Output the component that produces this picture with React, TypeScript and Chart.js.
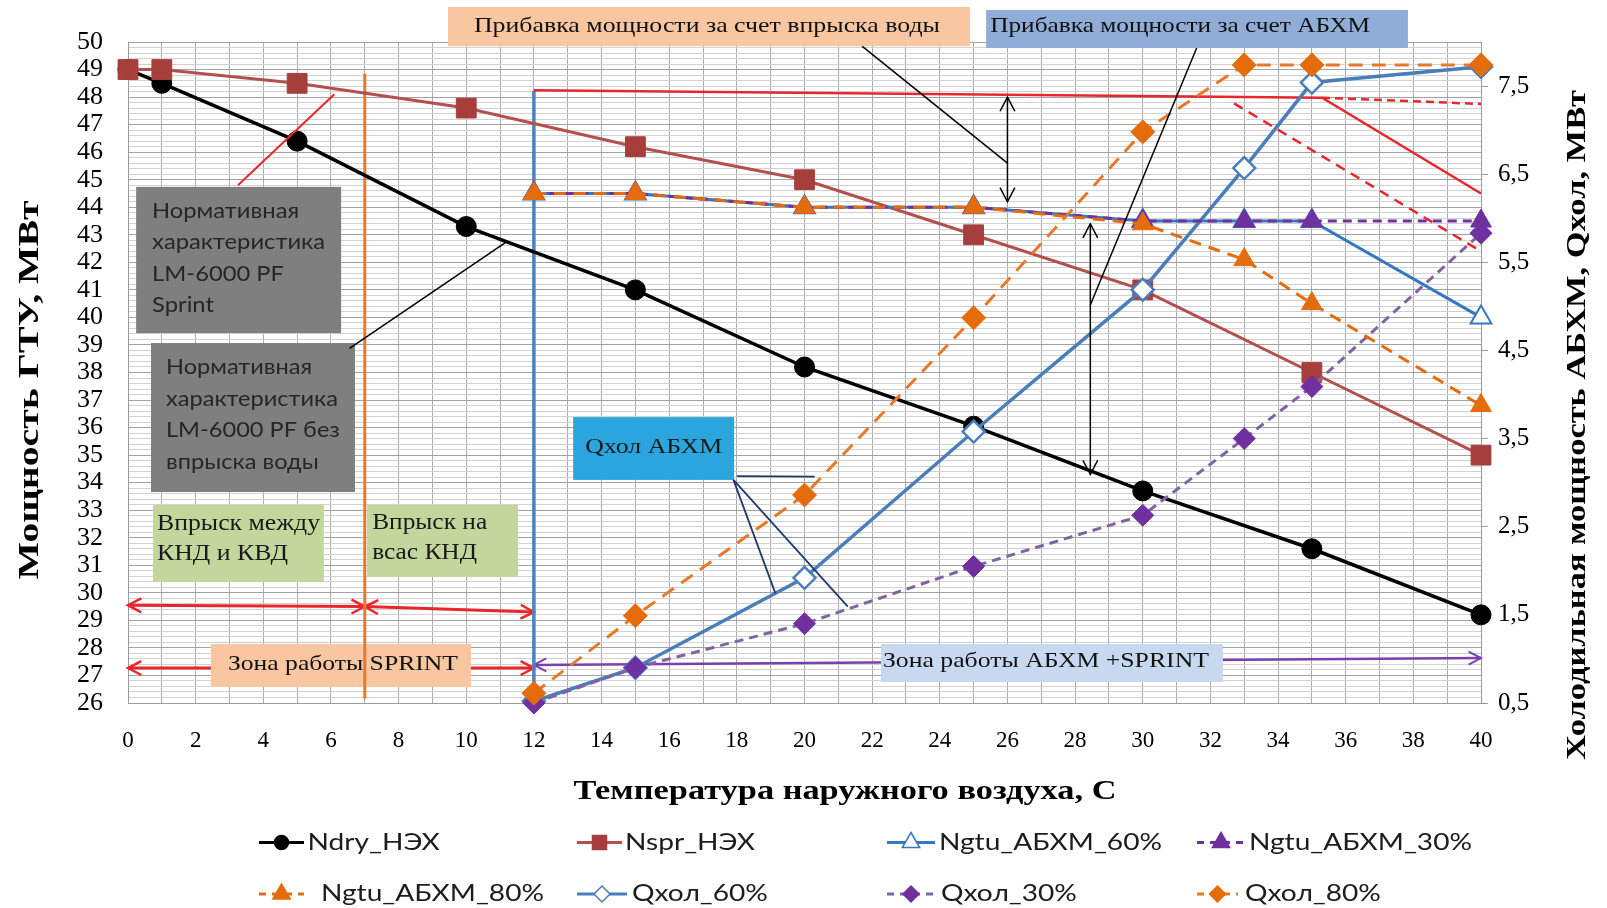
import React, { useEffect, useRef } from "react";
import { Chart, registerables } from "chart.js";

Chart.register(...registerables);

// ---------------- data ----------------
const xBase = [0, 1, 5, 10, 15, 20, 25, 30, 35, 40];
const nDry = [49.0, 48.5, 46.4, 43.3, 41.0, 38.2, 36.05, 33.7, 31.6, 29.2];
const nSpr = [49.0, 49.0, 48.5, 47.6, 46.2, 45.0, 43.0, 41.0, 38.0, 35.0];

const xAbxm = [12, 15, 20, 25, 30, 33, 35, 40];
const nGtu60 = [44.5, 44.5, 44.0, 44.0, 43.5, 43.5, 43.5, 40.0];
const nGtu30 = [44.5, 44.5, 44.0, 44.0, 43.5, 43.5, 43.5, 43.5];
const nGtu80 = [44.5, 44.5, 44.0, 44.0, 43.4, 42.1, 40.5, 36.8];
const qHol60 = [0.52, 0.9, 1.92, 3.58, 5.19, 6.57, 7.54, 7.72];
const qHol30 = [0.5, 0.9, 1.4, 2.05, 2.63, 3.5, 4.09, 5.83];
const qHol80 = [0.61, 1.49, 2.86, 4.87, 6.98, 7.74, 7.74, 7.74];

const xTickLabels = [0, 2, 4, 6, 8, 10, 12, 14, 16, 18, 20, 22, 24, 26, 28, 30, 32, 34, 36, 38, 40];
const leftTickLabels = [26, 27, 28, 29, 30, 31, 32, 33, 34, 35, 36, 37, 38, 39, 40, 41, 42, 43, 44, 45, 46, 47, 48, 49, 50];
const rightTickLabels = [0.5, 1.5, 2.5, 3.5, 4.5, 5.5, 6.5, 7.5];

const seriesNames = [
  "Ndry_НЭХ",
  "Nspr_НЭХ",
  "Ngtu_АБХМ_60%",
  "Ngtu_АБХМ_30%",
  "Ngtu_АБХМ_80%",
  "Qхол_60%",
  "Qхол_30%",
  "Qхол_80%",
];

// grid helpers (not data)
const xGrid = Array.from({ length: 41 }, (_, i) => i);
const yGrid = Array.from({ length: 121 }, (_, i) => Math.round((26 + i * 0.2) * 10) / 10);

const SERIF = '"Liberation Serif", "Times New Roman", serif';
const SANS = 'Lato, "Open Sans", "Liberation Sans", sans-serif';

const C = {
  black: "#000000",
  spr: "#B3504D",
  sprMk: "#A63F3C",
  blue: "#3478BF",
  qblue: "#4A7EBB",
  purple: "#7030A0",
  qpurple: "#8064A2",
  orange: "#E46C0A",
  red: "#E8262C",
  navy: "#1F3A6B",
};

const pts = (xs: number[], ys: number[]) => xs.map((x, i) => ({ x, y: ys[i] }));

function strokeLine(ctx: any, p: number[][], color: string, width: number, dash: number[] = []) {
  ctx.save();
  ctx.strokeStyle = color;
  ctx.lineWidth = width;
  ctx.setLineDash(dash);
  ctx.lineCap = "butt";
  ctx.beginPath();
  p.forEach((q, i) => (i ? ctx.lineTo(q[0], q[1]) : ctx.moveTo(q[0], q[1])));
  ctx.stroke();
  ctx.restore();
}

function arrowHead(ctx: any, tx: number, ty: number, fx: number, fy: number, len: number, color: string, width: number) {
  const a = Math.atan2(ty - fy, tx - fx);
  const s = Math.PI / 6.5;
  ctx.save();
  ctx.strokeStyle = color;
  ctx.lineWidth = width;
  ctx.setLineDash([]);
  ctx.beginPath();
  ctx.moveTo(tx - len * Math.cos(a - s), ty - len * Math.sin(a - s));
  ctx.lineTo(tx, ty);
  ctx.lineTo(tx - len * Math.cos(a + s), ty - len * Math.sin(a + s));
  ctx.stroke();
  ctx.restore();
}

function textFit(ctx: any, s: string, x: number, y: number, font: string, color: string, width: number, align = "left", rot = 0) {
  ctx.save();
  ctx.font = font;
  const w = ctx.measureText(s).width;
  const sx = width ? width / w : 1;
  ctx.translate(x, y);
  if (rot) ctx.rotate(rot);
  ctx.scale(sx, 1);
  ctx.fillStyle = color;
  ctx.textAlign = align;
  ctx.textBaseline = "middle";
  ctx.fillText(s, 0, 0);
  ctx.restore();
}

type Box = {
  x1: number; x2: number; y1: number; y2: number;
  fill: string; lines: string[]; font: string; color: string;
  align: string; pad?: number; dx?: number; dy?: number; lh?: number;
  ref: string; refW: number;
};

const boxesBelow: Box[] = [
  { x1: 2.45, x2: 10.14, y1: 28.14, y2: 26.58, fill: "#F8C6A0", lines: ["Зона работы SPRINT"], font: `22px ${SERIF}`, color: "#111", align: "center", dx: 2, dy: -1, ref: "Зона работы SPRINT", refW: 230 },
  { x1: 22.26, x2: 32.37, y1: 28.14, y2: 26.76, fill: "#C6D9F1", lines: ["Зона работы АБХМ +SPRINT"], font: `22px ${SERIF}`, color: "#111", align: "center", dx: -6, dy: -2, ref: "Зона работы АБХМ +SPRINT", refW: 326 },
];

const boxesAbove: Box[] = [
  { x1: 0.24, x2: 6.3, y1: 44.74, y2: 39.43, fill: "#7F7F7F", lines: ["Нормативная", "характеристика", "LM-6000 PF", "Sprint"], font: `21px ${SANS}`, color: "#262626", align: "left", pad: 16, dy: -2, lh: 31.5, ref: "характеристика", refW: 173 },
  { x1: 0.68, x2: 6.71, y1: 39.07, y2: 33.66, fill: "#7F7F7F", lines: ["Нормативная", "характеристика", "LM-6000 PF без", "впрыска воды"], font: `21px ${SANS}`, color: "#262626", align: "left", pad: 15, dy: -3, lh: 31.5, ref: "характеристика", refW: 172 },
  { x1: 0.74, x2: 5.79, y1: 33.19, y2: 30.39, fill: "#C3D69B", lines: ["Впрыск между", "КНД и КВД"], font: `23px ${SERIF}`, color: "#1a1a1a", align: "left", pad: 4, dy: -5, lh: 30, ref: "Впрыск между", refW: 163 },
  { x1: 7.07, x2: 11.53, y1: 33.19, y2: 30.58, fill: "#C3D69B", lines: ["Впрыск на", "всас КНД"], font: `23px ${SERIF}`, color: "#1a1a1a", align: "left", pad: 5, dy: -3, lh: 30, ref: "Впрыск на", refW: 115 },
  { x1: 13.16, x2: 17.92, y1: 36.38, y2: 34.1, fill: "#2AA5DE", lines: ["Qхол АБХМ"], font: `22px ${SERIF}`, color: "#1a1a1a", align: "center", dy: -1, ref: "Qхол АБХМ", refW: 137 },
];

const boxesTop: Box[] = [
  { x1: 9.46, x2: 24.89, y1: 51.27, y2: 49.85, fill: "#F8C6A0", lines: ["Прибавка мощности за счет впрыска воды"], font: `22px ${SERIF}`, color: "#111", align: "center", dx: -2, dy: 0, ref: "Прибавка мощности за счет впрыска воды", refW: 466 },
  { x1: 25.37, x2: 37.84, y1: 51.16, y2: 49.78, fill: "#8FADD6", lines: ["Прибавка мощности за счет АБХМ"], font: `22px ${SERIF}`, color: "#111", align: "left", pad: 4, dy: -3, ref: "Прибавка мощности за счет АБХМ", refW: 380 },
];

function drawBox(ctx: any, X: (v: number) => number, Y: (v: number) => number, b: Box) {
  const x1 = X(b.x1), x2 = X(b.x2), y1 = Y(b.y1), y2 = Y(b.y2);
  ctx.save();
  ctx.fillStyle = b.fill;
  ctx.fillRect(x1, y1, x2 - x1, y2 - y1);
  ctx.font = b.font;
  const sx = b.refW / ctx.measureText(b.ref).width;
  const n = b.lines.length;
  const cy = (y1 + y2) / 2 + (b.dy || 0);
  b.lines.forEach((s, i) => {
    const ty = cy + (i - (n - 1) / 2) * (b.lh || 0);
    const tx = b.align === "center" ? (x1 + x2) / 2 + (b.dx || 0) : x1 + (b.pad || 0);
    ctx.save();
    ctx.translate(tx, ty);
    ctx.scale(sx, 1);
    ctx.fillStyle = b.color;
    ctx.textAlign = b.align;
    ctx.textBaseline = "middle";
    ctx.fillText(s, 0, 0);
    ctx.restore();
  });
  ctx.restore();
}

function drawMarker(ctx: any, style: string, x: number, y: number, r: number, fill: string, stroke: string, bw: number) {
  ctx.save();
  ctx.beginPath();
  if (style === "circle") ctx.arc(x, y, r, 0, Math.PI * 2);
  else if (style === "rect") ctx.rect(x - r, y - r, 2 * r, 2 * r);
  else if (style === "triangle") {
    ctx.moveTo(x, y - r);
    ctx.lineTo(x + r * 0.87, y + r * 0.5);
    ctx.lineTo(x - r * 0.87, y + r * 0.5);
    ctx.closePath();
  } else {
    ctx.moveTo(x, y - r);
    ctx.lineTo(x + r, y);
    ctx.lineTo(x, y + r);
    ctx.lineTo(x - r, y);
    ctx.closePath();
  }
  ctx.fillStyle = fill;
  ctx.fill();
  ctx.lineWidth = bw;
  ctx.strokeStyle = stroke;
  ctx.stroke();
  ctx.restore();
}

const annotPlugin = {
  id: "annot",
  beforeDatasetsDraw(chart: any) {
    const ctx = chart.ctx;
    const X = (v: number) => chart.scales.x.getPixelForValue(v);
    const Y = (v: number) => chart.scales.y.getPixelForValue(v);
    const P = (x: number, y: number) => [X(x), Y(y)];

    // red zone arrows
    const redRows = [
      [0, 29.55, 7, 29.5],
      [7, 29.5, 12, 29.3],
      [0, 27.27, 12, 27.27],
    ];
    redRows.forEach((r) => {
      const a = P(r[0], r[1]), b = P(r[2], r[3]);
      strokeLine(ctx, [a, b], C.red, 3);
      arrowHead(ctx, a[0], a[1], b[0], b[1], 15, C.red, 2.5);
      arrowHead(ctx, b[0], b[1], a[0], a[1], 15, C.red, 2.5);
    });
    // purple zone arrow
    {
      const a = P(12, 27.38), b = P(40, 27.63);
      strokeLine(ctx, [a, b], "#7B3FB0", 2.5);
      arrowHead(ctx, a[0], a[1], b[0], b[1], 14, "#7B3FB0", 2);
      arrowHead(ctx, b[0], b[1], a[0], a[1], 14, "#7B3FB0", 2);
    }
    boxesBelow.forEach((b) => drawBox(ctx, X, Y, b));

    // vertical zone borders
    strokeLine(ctx, [P(7, 48.85), P(7, 26.15)], "#E8782A", 3);
    strokeLine(ctx, [P(12, 48.23), P(12, 26.0)], "#4F81BD", 3.5);

    boxesAbove.forEach((b) => drawBox(ctx, X, Y, b));

    // red reference lines (upper)
    strokeLine(ctx, [P(12, 48.25), P(35.3, 47.98), P(40, 44.5)], C.red, 2.5);
    strokeLine(ctx, [P(35.3, 47.98), P(40, 47.75)], C.red, 2.5, [8, 5]);
    strokeLine(ctx, [P(32.7, 47.77), P(40, 42.4)], C.red, 2.5, [10, 7]);
  },
  afterDatasetsDraw(chart: any) {
    const ctx = chart.ctx;
    const X = (v: number) => chart.scales.x.getPixelForValue(v);
    const Y = (v: number) => chart.scales.y.getPixelForValue(v);
    const P = (x: number, y: number) => [X(x), Y(y)];

    // black double arrows
    const dbl = [
      [26, 48.0, 26, 44.2],
      [28.45, 43.4, 28.45, 34.3],
    ];
    dbl.forEach((r) => {
      const a = P(r[0], r[1]), b = P(r[2], r[3]);
      strokeLine(ctx, [a, b], "#000", 1.5);
      arrowHead(ctx, a[0], a[1], b[0], b[1], 16, "#000", 1.5);
      arrowHead(ctx, b[0], b[1], a[0], a[1], 16, "#000", 1.5);
    });
    // leader lines
    strokeLine(ctx, [P(21.7, 49.85), P(26, 45.6)], "#000", 1.5);
    strokeLine(ctx, [P(31.6, 49.8), P(28.45, 40.45)], "#000", 1.5);
    strokeLine(ctx, [P(6.55, 38.88), P(11.2, 42.75)], "#000", 1.5);
    strokeLine(ctx, [P(3.25, 44.8), P(6.1, 48.1)], C.red, 2);
    strokeLine(ctx, [P(18.0, 34.24), P(20.3, 34.22)], C.navy, 1.8);
    strokeLine(ctx, [P(17.9, 34.1), P(19.14, 29.98)], C.navy, 1.8);
    strokeLine(ctx, [P(17.9, 34.1), P(21.28, 29.5)], C.navy, 1.8);

    boxesTop.forEach((b) => drawBox(ctx, X, Y, b));
  },
  afterDraw(chart: any) {
    const ctx = chart.ctx;
    // axis titles
    textFit(ctx, "Температура наружного воздуха, С", 845, 792, `bold 28px ${SERIF}`, "#000", 543, "center");
    textFit(ctx, "Мощность ГТУ, МВт", 31, 390, `bold 29px ${SERIF}`, "#000", 379, "center", -Math.PI / 2);
    textFit(ctx, "Холодильная мощность АБХМ, Qхол, МВт", 1578, 425, `bold 28px ${SERIF}`, "#000", 670, "center", -Math.PI / 2);

    // legend
    const font = `23px ${SANS}`;
    ctx.save();
    ctx.font = font;
    const sx = 223 / ctx.measureText("Ngtu_АБХМ_60%").width;
    ctx.restore();
    const rows = [842.5, 894];
    const items = [
      { i: 0, row: 0, s: 259, e: 304, t: 307.5 },
      { i: 1, row: 0, s: 577, e: 622, t: 625 },
      { i: 2, row: 0, s: 887, e: 935, t: 939 },
      { i: 3, row: 0, s: 1197, e: 1245, t: 1249 },
      { i: 4, row: 1, s: 259, e: 304, t: 321 },
      { i: 5, row: 1, s: 577, e: 627, t: 632 },
      { i: 6, row: 1, s: 887, e: 935, t: 941 },
      { i: 7, row: 1, s: 1197, e: 1238, t: 1245 },
    ];
    items.forEach((it) => {
      const ds = chart.data.datasets[it.i];
      const y = rows[it.row];
      strokeLine(ctx, [[it.s, y], [it.e, y]], ds.borderColor, 3, ds.borderDash && ds.borderDash.length ? [7, 6] : []);
      const m = (it.s + it.e) / 2;
      const st = ds.pointStyle;
      const r = st === "circle" ? 7 : st === "rect" ? 7 : st === "triangle" ? 10 : 8;
      drawMarker(ctx, st === "rectRot" ? "diamond" : st, m, y, r, ds.pointBackgroundColor, ds.pointBorderColor, 1.5);
      ctx.save();
      ctx.translate(it.t, y);
      ctx.scale(sx, 1);
      ctx.font = font;
      ctx.fillStyle = "#1c1c1c";
      ctx.textAlign = "left";
      ctx.textBaseline = "middle";
      ctx.fillText(seriesNames[it.i], 0, 0);
      ctx.restore();
    });
  },
};

const isInt = (v: number) => Math.abs(v - Math.round(v)) < 1e-6;

export default function App() {
  const ref = useRef<HTMLCanvasElement | null>(null);

  useEffect(() => {
    if (!ref.current) return;
    const chart = new Chart(ref.current, {
      type: "line",
      data: {
        datasets: [
          {
            label: seriesNames[0], data: pts(xBase, nDry), yAxisID: "y", order: 8, clip: false,
            borderColor: C.black, borderWidth: 3.5, pointStyle: "circle", pointRadius: 10,
            pointBackgroundColor: C.black, pointBorderColor: C.black, pointBorderWidth: 1,
          },
          {
            label: seriesNames[1], data: pts(xBase, nSpr), yAxisID: "y", order: 7, clip: false,
            borderColor: C.spr, borderWidth: 3, pointStyle: "rect", pointRadius: 14,
            pointBackgroundColor: C.sprMk, pointBorderColor: C.sprMk, pointBorderWidth: 1,
          },
          {
            label: seriesNames[2], data: pts(xAbxm, nGtu60), yAxisID: "y", order: 6, clip: false,
            borderColor: C.blue, borderWidth: 3, pointStyle: "triangle", pointRadius: 12,
            pointBackgroundColor: "#ffffff", pointBorderColor: C.blue, pointBorderWidth: 2,
          },
          {
            label: seriesNames[3], data: pts(xAbxm, nGtu30), yAxisID: "y", order: 3, clip: false,
            borderColor: C.purple, borderWidth: 3, borderDash: [9, 6], pointStyle: "triangle", pointRadius: 12,
            pointBackgroundColor: C.purple, pointBorderColor: C.purple, pointBorderWidth: 1,
          },
          {
            label: seriesNames[4], data: pts(xAbxm, nGtu80), yAxisID: "y", order: 2, clip: false,
            borderColor: C.orange, borderWidth: 3, borderDash: [12, 8], pointStyle: "triangle", pointRadius: 12,
            pointBackgroundColor: C.orange, pointBorderColor: C.orange, pointBorderWidth: 1,
          },
          {
            label: seriesNames[5], data: pts(xAbxm, qHol60), yAxisID: "y1", order: 5, clip: false,
            borderColor: C.qblue, borderWidth: 3.5, pointStyle: "rectRot", pointRadius: 11,
            pointBackgroundColor: "#ffffff", pointBorderColor: C.qblue, pointBorderWidth: 2.5,
          },
          {
            label: seriesNames[6], data: pts(xAbxm, qHol30), yAxisID: "y1", order: 4, clip: false,
            borderColor: C.qpurple, borderWidth: 3, borderDash: [9, 6], pointStyle: "rectRot", pointRadius: 11,
            pointBackgroundColor: C.purple, pointBorderColor: C.purple, pointBorderWidth: 1,
          },
          {
            label: seriesNames[7], data: pts(xAbxm, qHol80), yAxisID: "y1", order: 1, clip: false,
            borderColor: "#E8792A", borderWidth: 3, borderDash: [14, 9], pointStyle: "rectRot", pointRadius: 12,
            pointBackgroundColor: C.orange, pointBorderColor: C.orange, pointBorderWidth: 1,
          },
        ] as any,
      },
      options: {
        responsive: false,
        animation: false,
        devicePixelRatio: 1,
        events: [],
        layout: { padding: { top: 42, left: 0, right: 0, bottom: 0 } },
        elements: { line: { tension: 0 } },
        plugins: { legend: { display: false }, tooltip: { enabled: false }, title: { display: false } },
        scales: {
          x: {
            type: "linear",
            min: 0,
            max: 40,
            afterBuildTicks: (s: any) => { s.ticks = xGrid.map((v) => ({ value: v })); },
            afterFit: (s: any) => { s.height = 205; },
            ticks: {
              autoSkip: false,
              maxRotation: 0,
              padding: 24,
              color: "#000",
              font: { family: SERIF, size: 23 },
              callback: (v: any) => (xTickLabels.includes(Number(v)) ? String(v) : ""),
            },
            grid: { color: "#ababab", lineWidth: 1, drawTicks: false },
            border: { color: "#9a9a9a" },
          },
          y: {
            type: "linear",
            position: "left",
            min: 26,
            max: 50,
            afterBuildTicks: (s: any) => { s.ticks = yGrid.map((v) => ({ value: v })); },
            afterFit: (s: any) => { s.width = 128; },
            ticks: {
              autoSkip: false,
              padding: 25,
              color: "#000",
              font: { family: SERIF, size: 26 },
              callback: (v: any) => (isInt(Number(v)) && leftTickLabels.includes(Math.round(Number(v))) ? String(Math.round(Number(v))) : ""),
            },
            grid: {
              color: (c: any) => (c.tick && isInt(c.tick.value) ? "#a2a2a2" : "#d2d2d2"),
              lineWidth: 1,
              drawTicks: false,
            },
            border: { color: "#9a9a9a" },
          },
          y1: {
            type: "linear",
            position: "right",
            min: 0.5,
            max: 8,
            afterBuildTicks: (s: any) => { s.ticks = rightTickLabels.map((v) => ({ value: v })); },
            afterFit: (s: any) => { s.width = 126; },
            ticks: {
              autoSkip: false,
              padding: 10,
              color: "#000",
              font: { family: SERIF, size: 25 },
              callback: (v: any) => Number(v).toFixed(1).replace(".", ","),
            },
            grid: { drawOnChartArea: false, drawTicks: true, tickLength: 7, color: "#9a9a9a" },
            border: { color: "#9a9a9a" },
          },
        },
      } as any,
      plugins: [annotPlugin],
    });
    return () => chart.destroy();
  }, []);

  return (
    <div style={{ position: "absolute", left: 0, top: 0, width: 1607, height: 908, background: "#fff" }}>
      <canvas ref={ref} width={1607} height={908} style={{ display: "block" }} />
    </div>
  );
}
